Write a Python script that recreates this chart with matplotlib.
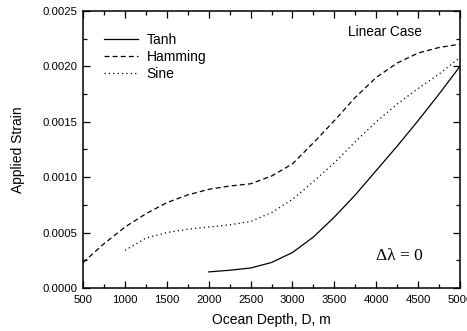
import matplotlib
matplotlib.use("Agg")
import matplotlib.pyplot as plt
from matplotlib.ticker import MultipleLocator, FormatStrFormatter

plt.rcParams['font.family'] = ['Liberation Sans', 'DejaVu Sans']

# ocean depth (m) and applied strain for each window
depth_tanh = [2000, 2250, 2500, 2750, 3000, 3250, 3500, 3750, 4000, 4250, 4500, 4750, 5000]
strain_tanh = [0.000145, 0.00016, 0.00018, 0.00023, 0.00032, 0.00046, 0.00064, 0.00084,
               0.00106, 0.00128, 0.00151, 0.00175, 0.00200]

depth_hamming = [500, 750, 1000, 1250, 1500, 1750, 2000, 2250, 2500, 2750, 3000, 3250,
                 3500, 3750, 4000, 4250, 4500, 4750, 5000]
strain_hamming = [0.00023, 0.00040, 0.00055, 0.00067, 0.00077, 0.00084, 0.00089, 0.00092,
                  0.00094, 0.00101, 0.00112, 0.00131, 0.00151, 0.00172, 0.00190, 0.00203,
                  0.00212, 0.00217, 0.00220]

depth_sine = [1000, 1250, 1500, 1750, 2000, 2250, 2500, 2750, 3000, 3250, 3500, 3750,
              4000, 4250, 4500, 4750, 5000]
strain_sine = [0.00034, 0.00045, 0.00050, 0.00053, 0.00055, 0.00057, 0.00060, 0.00068,
               0.00080, 0.00096, 0.00113, 0.00132, 0.00150, 0.00166, 0.00180, 0.00193,
               0.00208]

fig = plt.figure(figsize=(4.67, 3.31), dpi=100)
ax = fig.add_axes([0.178, 0.130, 0.807, 0.837])

ax.plot(depth_tanh, strain_tanh, color='black', lw=0.9, ls='-', label='Tanh')
ax.plot(depth_hamming, strain_hamming, color='black', lw=0.9, ls=(0, (4, 2.5)), label='Hamming')
ax.plot(depth_sine, strain_sine, color='black', lw=0.9, ls=(0, (1, 2.5)), label='Sine')

ax.set_xlim(500, 5000)
ax.set_ylim(0, 0.0025)
ax.xaxis.set_major_locator(MultipleLocator(500))
ax.xaxis.set_minor_locator(MultipleLocator(250))
ax.yaxis.set_major_locator(MultipleLocator(0.0005))
ax.yaxis.set_minor_locator(MultipleLocator(0.00025))
ax.yaxis.set_major_formatter(FormatStrFormatter('%.4f'))
ax.tick_params(which='both', direction='in', top=True, right=True, labelsize=8.2)
ax.tick_params(axis='y', pad=4)
ax.tick_params(axis='x', pad=5)
ax.tick_params(which='major', length=5, width=0.9)
ax.tick_params(which='minor', length=3, width=0.9)
for s in ax.spines.values():
    s.set_linewidth(1.1)

ax.set_xlabel('Ocean Depth, D, m', fontsize=10, labelpad=6)
ax.set_ylabel('Applied Strain', fontsize=10, labelpad=13)

ax.legend(loc='upper left', frameon=False, fontsize=10, handlelength=2.45,
          handletextpad=0.65, labelspacing=0.2, borderaxespad=0.0,
          bbox_to_anchor=(0.04, 0.94))
ax.text(0.80, 0.91, 'Linear Case', transform=ax.transAxes, ha='center', fontsize=9.8)
ax.text(0.84, 0.115, 'Δλ = 0', transform=ax.transAxes, ha='center', va='center',
        fontsize=12.5, family=['Liberation Serif', 'DejaVu Serif'])

fig.savefig('out.png', dpi=100)
